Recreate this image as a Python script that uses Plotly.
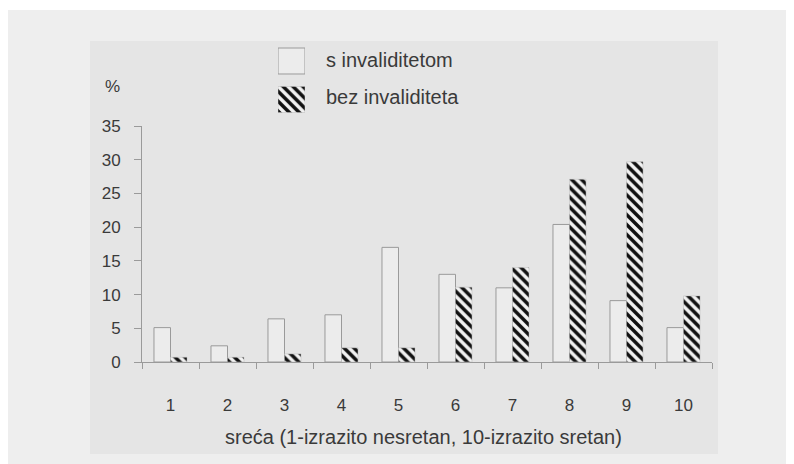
import plotly.graph_objects as go

categories = ["1", "2", "3", "4", "5", "6", "7", "8", "9", "10"]
s_invaliditetom = [5.1, 2.4, 6.4, 7.0, 17.0, 13.0, 11.0, 20.4, 9.1, 5.1]
bez_invaliditeta = [0.7, 0.7, 1.2, 2.1, 2.1, 11.1, 14.0, 27.1, 29.7, 9.8]
series_names = ["s invaliditetom", "bez invaliditeta"]
y_ticks = [0, 5, 10, 15, 20, 25, 30, 35]
x_title = "sreća (1-izrazito nesretan, 10-izrazito sretan)"
y_unit = "%"

# page body has an 8px margin: figure is drawn in screen coords minus OFF
OFF = 8
W, H = 794 - OFF, 464 - OFF
L, R, T, B = 142 - OFF, 82, 41 - OFF, 102
PW, PH = W - L - R, H - T - B
y0px = 362  # screen y of the x axis

def px(x):  # screen x -> paper x
    return (x - OFF - L) / PW

def py(y):  # screen y -> paper y
    return (y0px - y) / PH

FONT = "Liberation Sans, Arial, sans-serif"
TXT = "#3a3a3a"
AX = "#9a9a9a"
WHITE_FILL = "#ececec"
HATCH = dict(shape="\\", fgcolor="#111111", bgcolor="#f2f2f2",
             size=7, solidity=0.5, fillmode="replace")

fig = go.Figure()
fig.add_trace(go.Bar(
    x=categories, y=s_invaliditetom, name=series_names[0],
    marker=dict(color=WHITE_FILL, line=dict(color=AX, width=1)),
    showlegend=False,
))
fig.add_trace(go.Bar(
    x=categories, y=bez_invaliditeta, name=series_names[1],
    marker=dict(color="#f2f2f2", line=dict(color="#bbbbbb", width=0.5), pattern=HATCH),
    showlegend=False,
))

# legend keys drawn as bars on an auxiliary axis pair
fig.add_trace(go.Bar(
    x=[1], y=[series_names[0]], orientation="h", xaxis="x2", yaxis="y2",
    width=0.675, offset=-0.3375, showlegend=False, hoverinfo="skip",
    marker=dict(color=WHITE_FILL, line=dict(color=AX, width=1)),
))
fig.add_trace(go.Bar(
    x=[1], y=[series_names[1]], orientation="h", xaxis="x2", yaxis="y2",
    width=0.675, offset=-0.3375, showlegend=False, hoverinfo="skip",
    marker=dict(color="#f2f2f2", line=dict(color="#bbbbbb", width=0.5), pattern=HATCH),
))

ann = []
for name, yc in zip(series_names, [60, 97]):
    ann.append(dict(text=name, x=px(324), y=py(yc), xref="paper", yref="paper",
                    xanchor="left", yanchor="middle", showarrow=False,
                    font=dict(family=FONT, size=20, color=TXT)))
ann.append(dict(text=y_unit, x=px(112), y=py(86), xref="paper", yref="paper",
                xanchor="center", yanchor="middle", showarrow=False,
                font=dict(family=FONT, size=17, color=TXT)))
ann.append(dict(text=x_title, x=px(423), y=py(437), xref="paper", yref="paper",
                xanchor="center", yanchor="middle", showarrow=False,
                font=dict(family=FONT, size=20, color=TXT)))

shapes = [
    dict(type="rect", xref="paper", yref="paper", x0=px(7), x1=px(810), y0=py(480), y1=py(10),
         fillcolor="#eeeeee", line=dict(width=0), layer="below"),
    dict(type="rect", xref="paper", yref="paper", x0=px(90), x1=px(718), y0=py(454), y1=py(41),
         fillcolor="#e5e5e5", line=dict(width=0), layer="below"),
]

fig.update_layout(
    width=W, height=H,
    margin=dict(l=L, r=R, t=T, b=B, pad=0),
    paper_bgcolor="white", plot_bgcolor="rgba(0,0,0,0)",
    barmode="group", bargap=0.42, bargroupgap=0,
    showlegend=False,
    font=dict(family=FONT, size=17, color=TXT),
    xaxis=dict(type="category", categoryorder="array", categoryarray=categories,
               range=[-0.5, 9.5], tickson="boundaries", ticks="outside", ticklen=6,
               tickcolor=AX, showline=True, linecolor=AX, linewidth=1,
               showgrid=False, zeroline=False, ticklabelstandoff=28,
               tickfont=dict(family=FONT, size=17, color=TXT), anchor="y"),
    yaxis=dict(domain=[0, (y0px - 126) / PH], range=[0, 35], tickvals=y_ticks,
               ticks="outside", ticklen=7, tickcolor=AX, showline=True, linecolor=AX,
               linewidth=1, showgrid=False, zeroline=False, ticklabelstandoff=10,
               tickfont=dict(family=FONT, size=17, color=TXT), anchor="x"),
    xaxis2=dict(domain=[px(278), px(305)], range=[0, 1], visible=False, anchor="y2",
                fixedrange=True),
    yaxis2=dict(domain=[py(118.75), py(41.75)], type="category", categoryorder="array",
                categoryarray=[series_names[1], series_names[0]], range=[-0.5, 1.5],
                visible=False, anchor="x2", fixedrange=True),
    annotations=ann, shapes=shapes,
)

fig.write_html("out.html")
